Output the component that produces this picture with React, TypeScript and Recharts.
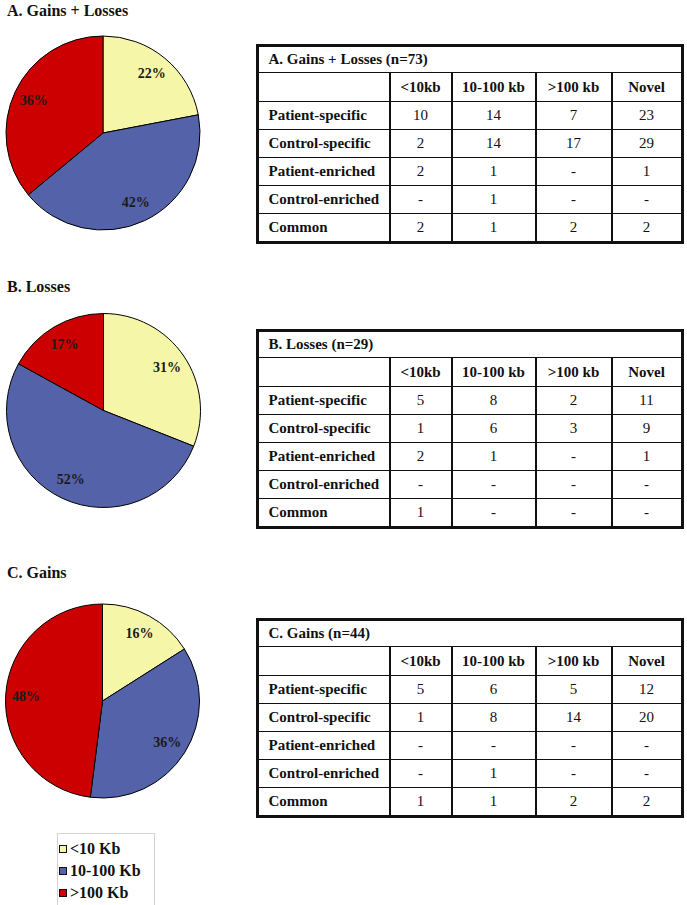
import React from 'react';
import { PieChart, Pie, Cell } from 'recharts';

const sizeCategories = ['<10 Kb', '10-100 Kb', '>100 Kb'];
const sizeColors = ['#F6F6A9', '#5462A9', '#CC0000'];

const gainsLossesPct = [22, 42, 36];
const lossesPct = [31, 52, 17];
const gainsPct = [16, 36, 48];

const tableColumns = ['<10kb', '10-100 kb', '>100 kb', 'Novel'];
const rowLabels = ['Patient-specific', 'Control-specific', 'Patient-enriched', 'Control-enriched', 'Common'];

const gainsLossesTable = [
  ['10', '14', '7', '23'],
  ['2', '14', '17', '29'],
  ['2', '1', '-', '1'],
  ['-', '1', '-', '-'],
  ['2', '1', '2', '2'],
];
const lossesTable = [
  ['5', '8', '2', '11'],
  ['1', '6', '3', '9'],
  ['2', '1', '-', '1'],
  ['-', '-', '-', '-'],
  ['1', '-', '-', '-'],
];
const gainsTable = [
  ['5', '6', '5', '12'],
  ['1', '8', '14', '20'],
  ['-', '-', '-', '-'],
  ['-', '1', '-', '-'],
  ['1', '1', '2', '2'],
];

const panelTitles = ['A. Gains + Losses', 'B. Losses', 'C. Gains'];
const tableTitles = ['A. Gains + Losses (n=73)', 'B. Losses (n=29)', 'C. Gains (n=44)'];

const FONT = '"Liberation Serif", "Times New Roman", serif';
const RADIAN = Math.PI / 180;

const toData = (vals: number[]) => sizeCategories.map((name, i) => ({ name, value: vals[i] }));

const renderLabel = (props: any) => {
  const { cx, cy, midAngle, outerRadius, value } = props;
  const r = outerRadius * 0.79;
  const x = cx + r * Math.cos(-midAngle * RADIAN);
  const y = cy + r * Math.sin(-midAngle * RADIAN);
  return (
    <text x={x} y={y} textAnchor="middle" dominantBaseline="central" fill="#1a1a1a"
      style={{ fontFamily: FONT, fontWeight: 700, fontSize: 14 }}>
      {`${value}%`}
    </text>
  );
};

const pies = [
  { data: gainsLossesPct, cx: 103, cy: 133 },
  { data: lossesPct, cx: 103.5, cy: 410.5 },
  { data: gainsPct, cx: 102.5, cy: 701 },
];

const colWidths = [132.5, 62, 84, 76, 70.5];
const rowHeights = [27.5, 29, 28, 28, 28, 28, 28.5];
const tableTops = [42, 327, 616];
const titleTops = [2.6, 278.6, 564.6];

function DataTable({ title, rows, top }: { title: string; rows: string[][]; top: number }) {
  const cellBase: React.CSSProperties = {
    borderTop: '1px solid #111',
    borderBottom: '1px solid #111',
    borderLeft: '2px solid #111',
    borderRight: '2px solid #111',
    padding: 0,
    textAlign: 'center',
    verticalAlign: 'middle',
    overflow: 'hidden',
    whiteSpace: 'nowrap',
  };
  return (
    <table
      style={{
        position: 'absolute',
        left: 255.5,
        top: top + 1.5,
        width: 425,
        height: 197,
        borderCollapse: 'collapse',
        tableLayout: 'fixed',
        border: '3px solid #111',
        fontFamily: FONT,
        fontSize: 15,
        color: '#111',
        background: '#fff',
      }}
    >
      <colgroup>
        {colWidths.map((w, i) => (
          <col key={i} style={{ width: w }} />
        ))}
      </colgroup>
      <tbody>
        <tr style={{ height: rowHeights[0] }}>
          <td colSpan={5} style={{ ...cellBase, textAlign: 'left', paddingLeft: 10, fontWeight: 700 }}>{title}</td>
        </tr>
        <tr style={{ height: rowHeights[1] }}>
          <td style={cellBase}></td>
          {tableColumns.map((c) => (
            <td key={c} style={{ ...cellBase, fontWeight: 700 }}>{c}</td>
          ))}
        </tr>
        {rows.map((r, ri) => (
          <tr key={ri} style={{ height: rowHeights[ri + 2] }}>
            <td style={{ ...cellBase, textAlign: 'left', paddingLeft: 10, fontWeight: 700 }}>{rowLabels[ri]}</td>
            {r.map((v, ci) => (
              <td key={ci} style={cellBase}>{v}</td>
            ))}
          </tr>
        ))}
      </tbody>
    </table>
  );
}

export default function App() {
  const tables = [gainsLossesTable, lossesTable, gainsTable];
  return (
    <div style={{ position: 'absolute', left: 0, top: 0, width: 687, height: 905, background: '#fff', overflow: 'hidden' }}>
      <div style={{ position: 'absolute', left: 0, top: 0 }}>
        <PieChart width={687} height={905} margin={{ top: 0, right: 0, bottom: 0, left: 0 }}>
          {pies.map((p, pi) => (
            <Pie
              key={pi}
              data={toData(p.data)}
              dataKey="value"
              nameKey="name"
              cx={p.cx}
              cy={p.cy}
              outerRadius={97}
              startAngle={90}
              endAngle={-270}
              stroke="#000"
              strokeWidth={1}
              label={renderLabel}
              labelLine={false}
              isAnimationActive={false}
            >
              {sizeCategories.map((c, i) => (
                <Cell key={c} fill={sizeColors[i]} />
              ))}
            </Pie>
          ))}
        </PieChart>
      </div>

      {panelTitles.map((t, i) => (
        <div
          key={t}
          style={{
            position: 'absolute',
            left: 7,
            top: titleTops[i],
            fontFamily: FONT,
            fontWeight: 700,
            fontSize: 16,
            lineHeight: '16px',
            color: '#111',
            whiteSpace: 'nowrap',
          }}
        >
          {t}
        </div>
      ))}

      {tables.map((rows, i) => (
        <DataTable key={i} title={tableTitles[i]} rows={rows} top={tableTops[i]} />
      ))}

      <div
        style={{
          position: 'absolute',
          left: 57,
          top: 833,
          width: 98,
          height: 80,
          border: '1px solid #d4d4d4',
          boxSizing: 'border-box',
          background: '#fff',
        }}
      >
        {sizeCategories.map((c, i) => (
          <div key={c} style={{ position: 'absolute', left: 1, top: 7 + i * 22, height: 16, display: 'flex', alignItems: 'center' }}>
            <span
              style={{
                display: 'inline-block',
                width: 6,
                height: 6,
                background: sizeColors[i],
                border: '1px solid #111',
                marginRight: 3,
              }}
            />
            <span style={{ fontFamily: FONT, fontWeight: 700, fontSize: 16, lineHeight: '16px', color: '#111', whiteSpace: 'nowrap' }}>{c}</span>
          </div>
        ))}
      </div>
    </div>
  );
}
